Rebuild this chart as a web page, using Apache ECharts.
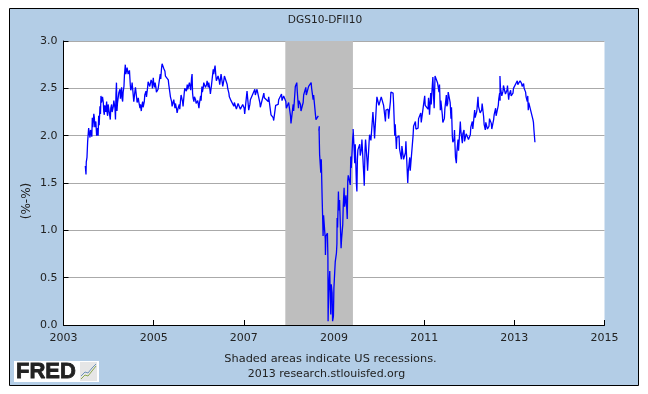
<!DOCTYPE html>
<html>
<head>
<meta charset="utf-8">
<script src="https://cdn.jsdelivr.net/npm/echarts@6/dist/echarts.min.js"></script>
<style>
html, body { margin: 0; padding: 0; background: #fff; }
#main { width: 648px; height: 394px; }
</style>
</head>
<body>
<div id="main"></div>
<script>
var chartTitle = "DGS10-DFII10";
var yAxisName = "(%-%)";
var footerLines = ["Shaded areas indicate US recessions.", "2013 research.stlouisfed.org"];
var recession = [2007.92, 2009.42];

var years = [
  2003.484, 2003.499, 2003.505, 2003.521, 2003.536, 2003.558, 2003.588, 2003.617, 2003.639, 2003.661, 2003.684, 2003.706, 2003.735, 2003.757, 2003.780, 2003.809, 2003.831, 2003.854, 2003.883, 2003.905, 2003.927, 2003.957, 2003.979,
  2004.009, 2004.038, 2004.068, 2004.105, 2004.142, 2004.164, 2004.186, 2004.215, 2004.252, 2004.289, 2004.312, 2004.341, 2004.371, 2004.400, 2004.422, 2004.452, 2004.481, 2004.511, 2004.548, 2004.585, 2004.622, 2004.659, 2004.696, 2004.725, 2004.755, 2004.792, 2004.829, 2004.866, 2004.903, 2004.932, 2004.962, 2004.991,
  2005.021, 2005.050, 2005.087, 2005.117, 2005.146, 2005.176, 2005.213, 2005.250, 2005.287, 2005.324, 2005.361, 2005.398, 2005.435, 2005.472, 2005.509, 2005.531, 2005.568, 2005.597, 2005.641, 2005.678, 2005.715, 2005.745, 2005.782, 2005.811, 2005.841, 2005.863, 2005.893, 2005.930, 2005.967,
  2006.004, 2006.041, 2006.070, 2006.100, 2006.137, 2006.174, 2006.211, 2006.247, 2006.284, 2006.321, 2006.351, 2006.380, 2006.417, 2006.454, 2006.484, 2006.521, 2006.558, 2006.594, 2006.631, 2006.668, 2006.705, 2006.742, 2006.779, 2006.824, 2006.861, 2006.912, 2006.964,
  2007.008, 2007.060, 2007.097, 2007.134, 2007.244, 2007.281, 2007.355, 2007.444, 2007.540, 2007.592, 2007.651, 2007.695, 2007.762, 2007.836, 2007.872, 2007.932, 2007.983,
  2008.035, 2008.094, 2008.131, 2008.175, 2008.212, 2008.257, 2008.316, 2008.375, 2008.426, 2008.493, 2008.537, 2008.589, 2008.641, 2008.652, 2008.663, 2008.670, 2008.707, 2008.736, 2008.758, 2008.795, 2008.810, 2008.854, 2008.869, 2008.906, 2008.928, 2008.958, 2008.987,
  2009.017, 2009.054, 2009.069, 2009.098, 2009.113, 2009.157, 2009.194, 2009.224, 2009.253, 2009.283, 2009.305, 2009.350, 2009.372, 2009.416, 2009.424, 2009.460, 2009.497, 2009.519, 2009.571, 2009.608, 2009.660, 2009.689, 2009.734, 2009.778, 2009.808, 2009.852, 2009.889, 2009.941, 2009.985,
  2010.037, 2010.089, 2010.141, 2010.200, 2010.251, 2010.310, 2010.347, 2010.384, 2010.443, 2010.495, 2010.532, 2010.584, 2010.636, 2010.680, 2010.754, 2010.806, 2010.865, 2010.924,
  2011.012, 2011.086, 2011.108, 2011.145, 2011.182, 2011.211, 2011.241, 2011.285, 2011.329, 2011.359, 2011.403, 2011.448, 2011.492, 2011.522, 2011.566, 2011.595, 2011.625, 2011.662, 2011.684, 2011.714, 2011.751, 2011.802, 2011.847, 2011.884, 2011.921, 2011.972,
  2012.024, 2012.068, 2012.120, 2012.157, 2012.194, 2012.231, 2012.275, 2012.319, 2012.356, 2012.393, 2012.438, 2012.489, 2012.541, 2012.585, 2012.644, 2012.674, 2012.681, 2012.711, 2012.748, 2012.792, 2012.837, 2012.874, 2012.918, 2012.970,
  2013.014, 2013.066, 2013.117, 2013.162, 2013.206, 2013.250, 2013.287, 2013.309, 2013.339, 2013.376, 2013.413, 2013.435, 2013.457
];
var spread = [
  1.68, 1.59, 1.72, 1.77, 1.94, 2.08, 1.98, 2.07, 2.19, 2.15, 2.19, 2.07, 2.00, 2.08, 2.21, 2.31, 2.42, 2.36, 2.35, 2.22, 2.33, 2.36, 2.21,
  2.33, 2.17, 2.33, 2.31, 2.29, 2.44, 2.26, 2.35, 2.49, 2.51, 2.36, 2.52, 2.75, 2.66, 2.73, 2.63, 2.54, 2.51, 2.42, 2.47, 2.40, 2.40, 2.29, 2.26, 2.36, 2.36, 2.47, 2.51, 2.59, 2.54, 2.56, 2.61,
  2.51, 2.51, 2.45, 2.51, 2.65, 2.72, 2.75, 2.68, 2.61, 2.59, 2.45, 2.36, 2.33, 2.29, 2.28, 2.24, 2.33, 2.38, 2.36, 2.45, 2.52, 2.54, 2.51, 2.54, 2.61, 2.45, 2.36, 2.38, 2.33,
  2.29, 2.42, 2.52, 2.51, 2.56, 2.54, 2.51, 2.49, 2.54, 2.70, 2.71, 2.63, 2.59, 2.58, 2.61, 2.56, 2.59, 2.65, 2.54, 2.45, 2.40, 2.35, 2.31, 2.33, 2.29, 2.33, 2.28,
  2.29, 2.42, 2.33, 2.33, 2.49, 2.44, 2.35, 2.45, 2.36, 2.26, 2.19, 2.28, 2.33, 2.44, 2.35, 2.36, 2.29,
  2.21, 2.33, 2.44, 2.56, 2.29, 2.33, 2.35, 2.51, 2.45, 2.56, 2.38, 2.22, 2.16, null, 2.05, 2.05, 1.61, 1.36, 0.94, 1.15, 0.74, 0.97, 0.04, 0.57, 0.11, 0.34, 0.09,
  0.57, 0.76, 1.13, 1.41, 1.22, 0.81, 1.06, 1.45, 1.27, 1.22, 1.52, 1.56, 1.78, 1.98, 2.07, 1.71, 1.49, 1.75, 1.91, 1.86, 1.59, 1.86, 1.73, 1.93, 2.03, 2.17, 2.07, 2.33, 2.40,
  2.33, 2.42, 2.15, 2.28, 2.36, 2.45, 2.00, 1.86, 2.00, 1.75, 1.87, 1.82, 1.50, 1.77, 2.00, 2.15, 2.08, 2.24,
  2.42, 2.28, 2.34, 2.45, 2.54, 2.39, 2.63, 2.61, 2.46, 2.27, 2.22, 2.18, 2.43, 2.34, 2.45, 2.18, 1.99, 1.96, 1.89, 1.71, 1.96, 2.15, 1.92, 2.06, 1.92, 2.04,
  2.01, 2.15, 2.27, 2.18, 2.41, 2.32, 2.27, 2.20, 2.06, 2.15, 2.10, 2.13, 2.17, 2.29, 2.32, 2.45, 2.63, 2.50, 2.47, 2.52, 2.48, 2.38, 2.48, 2.45,
  2.52, 2.58, 2.55, 2.55, 2.55, 2.46, 2.36, 2.27, 2.34, 2.27, 2.17, 2.06, 1.93
];
// day to day swing read next to each point above, same layout line by line
var swing = [
  0.00, 0.00, 0.00, 0.00, 0.00, -0.05, 0.08, -0.08, -0.10, 0.08, -0.10, 0.08, 0.05, -0.08, -0.10, -0.08, -0.07, 0.05, -0.10, 0.10, -0.08, -0.12, 0.12,
  -0.10, 0.12, -0.08, 0.06, -0.12, 0.12, 0.08, 0.10, -0.10, -0.12, 0.10, 0.12, -0.10, 0.06, -0.08, 0.06, -0.06, 0.05, -0.06, 0.04, -0.05, -0.04, 0.04, 0.05, -0.06, 0.07, -0.06, 0.06, -0.07, 0.05, -0.06, -0.06,
  0.05, -0.05, 0.04, -0.04, -0.05, 0.04, -0.04, -0.05, 0.04, -0.05, -0.04, -0.05, 0.05, 0.05, -0.04, 0.05, -0.05, 0.05, -0.05, 0.05, -0.05, -0.05, 0.05, -0.06, 0.04, -0.05, 0.05, -0.04, 0.04,
  0.05, -0.05, -0.06, 0.05, -0.05, 0.04, 0.05, -0.05, 0.05, -0.05, 0.03, -0.05, 0.04, -0.04, 0.04, -0.04, 0.04, -0.04, -0.04, -0.04, -0.03, 0.03, 0.04, -0.05, 0.05, -0.05, 0.05,
  -0.06, 0.05, -0.06, 0.05, -0.06, 0.05, -0.05, -0.05, 0.05, -0.04, -0.03, 0.04, 0.05, -0.07, 0.07, -0.07, 0.06,
  -0.08, -0.07, 0.08, -0.10, 0.08, -0.07, 0.08, -0.08, 0.07, -0.06, 0.05, -0.05, 0.05, 0, 0.05, -0.25, 0.14, -0.20, 0.22, -0.24, 0.20, -0.26, 0.30, -0.28, 0.32, -0.30, 0.30,
  0.10, 0.10, -0.10, -0.20, 0.10, 0.10, 0.20, -0.20, 0.10, -0.10, 0.06, -0.08, -0.12, 0.06, -0.10, 0.20, -0.08, 0.10, -0.12, 0.10, -0.12, 0.10, -0.10, 0.08, -0.08, 0.08, -0.10, 0.08, -0.08,
  0.08, -0.10, 0.12, -0.10, 0.10, -0.10, 0.12, 0.12, -0.14, 0.14, -0.12, 0.12, 0.12, -0.14, 0.10, -0.08, 0.10, -0.10,
  -0.10, 0.12, -0.12, -0.12, 0.08, -0.10, 0.02, -0.05, 0.08, 0.10, -0.08, 0.10, -0.12, 0.12, -0.10, 0.12, -0.06, 0.10, -0.12, 0.12, -0.12, -0.10, 0.10, -0.12, 0.10, -0.08,
  0.08, -0.08, -0.08, 0.08, -0.10, -0.08, 0.07, -0.08, 0.08, -0.08, 0.08, -0.06, 0.05, -0.08, 0.07, -0.08, -0.12, -0.08, 0.06, -0.08, 0.05, 0.05, -0.06, 0.05,
  -0.04, -0.04, 0.03, -0.03, -0.05, -0.05, 0.06, 0.08, -0.05, 0.04, -0.03, 0, 0
];

var chart = echarts.init(document.getElementById("main"));
var font = "DejaVu Sans";

var lineData = [];
years.forEach(function (y, i) {
  lineData.push([y, spread[i]]);
  if (spread[i] !== null && swing[i]) lineData.push([y + 0.011, spread[i] + swing[i]]);
});

chart.setOption({
  animation: false,
  backgroundColor: "#fff",
  title: {
    text: chartTitle,
    left: 320,
    top: 10,
    textAlign: "center",
    textStyle: { fontFamily: font, fontSize: 10.6, fontWeight: "normal", color: "#222" }
  },
  grid: { left: 63.5, right: 43.5, top: 41, bottom: 69, show: true, backgroundColor: "#fff", borderWidth: 0 },
  xAxis: {
    type: "value",
    min: 2003,
    max: 2015,
    interval: 2,
    axisLine: { lineStyle: { color: "#000" } },
    axisTick: { length: 5, inside: true, lineStyle: { color: "#000" } },
    axisLabel: { formatter: function (v) { return String(v); }, fontFamily: font, fontSize: 11, color: "#222", margin: 8 },
    splitLine: { show: false }
  },
  yAxis: {
    type: "value",
    min: 0,
    max: 3,
    interval: 0.5,
    axisLine: { show: true, lineStyle: { color: "#000" } },
    axisTick: { show: true, length: 5, inside: true, lineStyle: { color: "#000" } },
    axisLabel: { formatter: function (v) { return v.toFixed(1); }, fontFamily: font, fontSize: 11, color: "#222", margin: 6 },
    splitLine: { lineStyle: { color: "#aaa", width: 1 } }
  },
  graphic: [
    { type: "rect", z: -10, shape: { x: 9.5, y: 8.5, width: 629, height: 377 }, style: { fill: "#b3cde6", stroke: "#000", lineWidth: 1 } },
    { type: "text", x: 27, y: 201, rotation: Math.PI / 2, style: { text: yAxisName, font: "12px DejaVu Sans", fill: "#222", textAlign: "center", textVerticalAlign: "middle" } },
    { type: "text", x: 330.5, y: 354, style: { text: footerLines[0], font: "11.35px DejaVu Sans", fill: "#222", textAlign: "center" } },
    { type: "text", x: 326.5, y: 369, style: { text: footerLines[1], font: "11px DejaVu Sans", fill: "#222", textAlign: "center" } },
    { type: "rect", shape: { x: 14, y: 361, width: 85, height: 21 }, style: { fill: "#fff" } },
    { type: "text", x: 16, y: 361, style: { text: "FRED", font: "bold 22px Liberation Sans", fill: "#222", stroke: "#222", lineWidth: 0.8 } },
    { type: "rect", shape: { x: 80, y: 362, width: 17, height: 19 }, style: { fill: "#e6e6e6" } },
    { type: "polyline", shape: { points: [[81, 379], [85, 375], [88, 376], [92, 371], [96, 366]] }, style: { stroke: "#8aa84f", fill: "none", lineWidth: 1 } },
    { type: "polyline", shape: { points: [[81, 376], [85, 372], [88, 373], [92, 368], [96, 364]] }, style: { stroke: "#6f93b8", fill: "none", lineWidth: 1 } }
  ],
  series: [
    {
      type: "line",
      name: "recession",
      data: [],
      silent: true,
      z: 1,
      markArea: { silent: true, itemStyle: { color: "#bebebe", opacity: 1 }, data: [[{ xAxis: recession[0] }, { xAxis: recession[1] }]] }
    },
    {
      type: "line",
      name: chartTitle,
      z: 5,
      showSymbol: false,
      lineStyle: { color: "#0000ff", width: 1.3 },
      data: lineData
    }
  ]
});
</script>
</body>
</html>
